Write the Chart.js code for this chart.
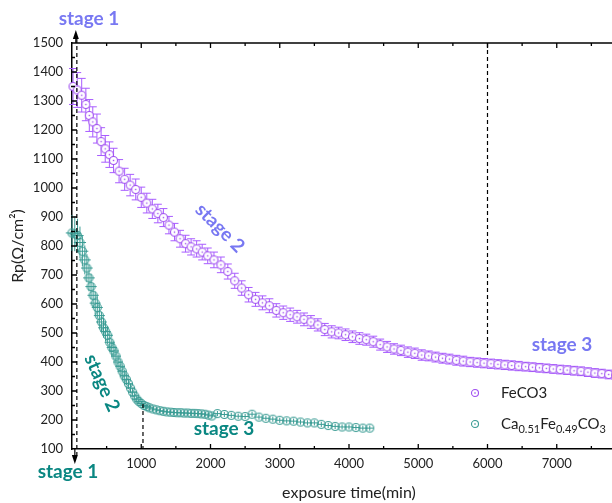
<!DOCTYPE html>
<html lang="en">
<head>
<meta charset="UTF-8">
<title>Rp vs exposure time</title>
<script src="https://cdn.jsdelivr.net/npm/chart.js"></script>
<style>
  body { margin: 0; background: #fff; }
  .wrap { width: 612px; height: 503px; overflow: hidden; }
  canvas { display: block; }
</style>
</head>
<body>
<div class="wrap"><canvas id="rp-chart" width="640" height="503"></canvas></div>
<script>
// FeCO3 (min, ohm/cm2, +/- error)
const feTime = [15, 75, 140, 200, 250, 300, 360, 420, 480, 540, 600,
  680, 760, 840, 920, 1000, 1080, 1160, 1240, 1320, 1400, 1480, 1560, 1640, 1720, 1800, 1880, 1960,
  2050, 2150, 2250, 2350, 2450, 2550, 2650, 2750, 2850, 2950, 3050, 3150, 3250, 3350, 3450, 3550,
  3650, 3750, 3850, 3950, 4050, 4150, 4250, 4350, 4450, 4550, 4650, 4750, 4850, 4950, 5050, 5150,
  5250, 5350, 5450, 5550, 5650, 5750, 5850, 5950, 6050, 6150, 6250, 6350, 6450, 6550, 6650, 6750,
  6850, 6950, 7050, 7150, 7250, 7350, 7450, 7550, 7650, 7750, 7850, 7950];
const feRp = [1350, 1338, 1320, 1288, 1250, 1228, 1205, 1160, 1135, 1115, 1095,
  1058, 1030, 1010, 995, 968, 948, 928, 912, 898, 872, 848, 825, 808, 797, 790, 779, 766,
  752, 735, 712, 680, 655, 632, 616, 604, 594, 578, 570, 563, 556, 547, 538, 528,
  512, 504, 500, 494, 487, 481, 477, 470, 460, 452, 445, 440, 434, 430, 424, 421,
  417, 413, 410, 406, 403, 400, 398, 396, 394, 392, 390, 388, 386, 384, 382, 380,
  378, 376, 374, 372, 370, 368, 365, 362, 360, 357, 355, 352];
const feErr = [62, 60, 58, 56, 55, 52, 50, 48, 46, 44, 42,
  40, 38, 37, 36, 35, 34, 33, 32, 31, 30, 30, 29, 29, 28, 28, 27, 27,
  27, 27, 26, 26, 25, 25, 24, 24, 24, 23, 23, 23, 22, 22, 22, 21,
  21, 21, 20, 20, 20, 20, 19, 19, 19, 19, 18, 18, 18, 18, 18, 17,
  17, 17, 17, 17, 17, 16, 16, 16, 16, 16, 16, 16, 16, 15, 15, 15,
  15, 15, 15, 15, 15, 15, 15, 15, 15, 15, 15, 15];

// Ca0.51Fe0.49CO3
const caTime = [0, 40, 80, 115, 150, 185, 215, 245, 275, 305, 335, 365,
  395, 425, 455, 485, 515, 545, 575, 605, 635, 665, 695, 725, 755, 785, 815, 845, 875, 905, 935, 965,
  1000, 1040, 1080, 1120,
  1170, 1220, 1270, 1320, 1370, 1420, 1470, 1520, 1570, 1620, 1670, 1720, 1770, 1820, 1870, 1920, 1970, 2020,
  2100, 2200, 2300, 2400, 2500, 2600, 2700, 2800, 2900, 3000, 3100, 3200, 3300, 3400, 3500, 3600,
  3700, 3800, 3900, 4000, 4100, 4200, 4300];
const caRp = [845, 842, 836, 812, 782, 752, 724, 690, 660, 630, 603, 588,
  560, 538, 518, 505, 492, 468, 450, 438, 420, 400, 385, 368, 352, 340, 325, 310, 296, 283, 272, 264,
  257, 250, 246, 242,
  238, 235, 232, 230, 228, 227, 226, 225, 225, 224, 224, 223, 223, 222, 221, 220, 217, 214,
  222, 219, 216, 213, 212, 220, 210, 206, 203, 199, 197, 196, 193, 190, 190, 185,
  181, 178, 176, 176, 174, 172, 172];
const caErrY = [62, 60, 58, 55, 52, 50, 48, 46, 44, 42, 40, 38,
  36, 35, 34, 33, 32, 30, 29, 28, 27, 26, 25, 24, 22, 20, 18, 16, 14, 13, 12, 11,
  10, 10, 10, 10,
  9, 9, 9, 9, 9, 9, 9, 9, 9, 9, 9, 9, 9, 9, 9, 9, 9, 9,
  9, 9, 9, 9, 9, 9, 9, 9, 9, 9, 9, 9, 9, 9, 9, 9,
  9, 9, 9, 9, 9, 9, 9];
const caErrX = [90, 90, 88, 88, 86, 86, 84, 84, 82, 82, 80, 80,
  80, 78, 78, 76, 76, 74, 74, 72, 72, 70, 70, 68, 68, 66, 66, 64, 64, 62, 62, 60,
  60, 60, 58, 58,
  56, 56, 56, 56, 56, 56, 56, 56, 56, 56, 56, 56, 56, 56, 56, 56, 56, 56,
  55, 55, 55, 55, 55, 55, 55, 55, 55, 55, 55, 55, 55, 55, 55, 55,
  55, 55, 55, 55, 55, 55, 55];

const xTicks = [1000, 2000, 3000, 4000, 5000, 6000, 7000];
const stageLines = [70, 1025, 6000];   // dashed marker times

const purple = '#a050f0';
const purpleBar = '#a85cff';
const purpleText = '#7878f2';
const teal = '#3a9c94';
const tealText = '#0a8782';
const font = "Lato, 'Open Sans', sans-serif";

function makeMarker(color, r, fill, dot) {
  const c = document.createElement('canvas');
  const s = Math.ceil(r * 2 + 3);
  c.width = s; c.height = s;
  const g = c.getContext('2d');
  g.beginPath();
  g.arc(s / 2, s / 2, r, 0, Math.PI * 2);
  if (fill) { g.fillStyle = fill; g.fill(); }
  g.strokeStyle = color; g.lineWidth = 1.1; g.stroke();
  if (dot) { g.fillStyle = color; g.fillRect(s / 2 - 0.7, s / 2 - 0.7, 1.4, 1.4); }
  return c;
}
const feMarker = makeMarker(purple, 4, '#fff', true);
const caMarker = makeMarker(teal, 4, null, false);

// error bars drawn under the markers
const errorBars = {
  id: 'errorBars',
  beforeDatasetsDraw(chart) {
    const { ctx, scales: { x, y } } = chart;
    ctx.save();
    ctx.lineWidth = 1;
    ctx.strokeStyle = teal;
    caTime.forEach((t, i) => {
      const px = x.getPixelForValue(t), py = y.getPixelForValue(caRp[i]);
      ctx.beginPath();
      ctx.moveTo(px, y.getPixelForValue(caRp[i] + caErrY[i]));
      ctx.lineTo(px, y.getPixelForValue(caRp[i] - caErrY[i]));
      ctx.moveTo(x.getPixelForValue(t - caErrX[i]), py);
      ctx.lineTo(x.getPixelForValue(t + caErrX[i]), py);
      ctx.stroke();
    });
    ctx.strokeStyle = purpleBar;
    feTime.forEach((t, i) => {
      const px = x.getPixelForValue(t);
      const top = y.getPixelForValue(feRp[i] + feErr[i]);
      const bot = y.getPixelForValue(feRp[i] - feErr[i]);
      ctx.beginPath();
      ctx.moveTo(px, top); ctx.lineTo(px, bot);
      ctx.moveTo(px - 4, top); ctx.lineTo(px + 4, top);
      ctx.moveTo(px - 4, bot); ctx.lineTo(px + 4, bot);
      ctx.stroke();
    });
    ctx.restore();
  }
};

function stageText(ctx, text, x, y, angle, color) {
  ctx.save();
  ctx.translate(x, y);
  ctx.rotate(angle * Math.PI / 180);
  ctx.fillStyle = color;
  ctx.font = 'bold 19px ' + font;
  ctx.textAlign = 'center';
  ctx.textBaseline = 'middle';
  ctx.fillText(text, 0, 0);
  ctx.restore();
}

function arrowHead(ctx, x, y, dir) {
  ctx.beginPath();
  ctx.moveTo(x, y);
  ctx.lineTo(x - 3, y - dir * 9);
  ctx.lineTo(x + 3, y - dir * 9);
  ctx.closePath();
  ctx.fill();
}

const decorations = {
  id: 'decorations',
  afterDraw(chart) {
    const { ctx, chartArea: a, scales: { x, y } } = chart;
    ctx.save();
    // frame top line and inward ticks
    ctx.strokeStyle = '#000';
    ctx.lineWidth = 1.5;
    ctx.beginPath();
    ctx.moveTo(a.left, a.top); ctx.lineTo(a.right, a.top);
    ctx.stroke();
    ctx.lineWidth = 1.3;
    ctx.beginPath();
    x.ticks.forEach(tk => {
      const v = tk.value;
      [[v, 5], [v + 500, 3]].forEach(([val, len]) => {
        if (val <= x.min || val >= x.max) return;
        const px = x.getPixelForValue(val);
        ctx.moveTo(px, a.bottom); ctx.lineTo(px, a.bottom - len);
        ctx.moveTo(px, a.top); ctx.lineTo(px, a.top + len);
      });
    });
    y.ticks.forEach(tk => {
      const v = tk.value;
      [[v, 5], [v + 50, 3]].forEach(([val, len]) => {
        if (val <= y.min || val >= y.max) return;
        const py = y.getPixelForValue(val);
        ctx.moveTo(a.left - 1, py); ctx.lineTo(a.left + len, py);
      });
    });
    ctx.stroke();

    // dashed stage boundaries
    ctx.lineWidth = 1.2;
    ctx.setLineDash([4, 3]);
    ctx.beginPath();
    const s1 = x.getPixelForValue(stageLines[0]);
    ctx.moveTo(s1, a.top - 4); ctx.lineTo(s1, a.bottom + 6);
    const s2 = x.getPixelForValue(stageLines[1]);
    ctx.moveTo(s2, y.getPixelForValue(255)); ctx.lineTo(s2, a.bottom);
    const s3 = x.getPixelForValue(stageLines[2]);
    ctx.moveTo(s3, a.top); ctx.lineTo(s3, y.getPixelForValue(420));
    ctx.stroke();
    ctx.setLineDash([]);
    ctx.fillStyle = '#000';
    ctx.beginPath();
    ctx.moveTo(s1 - 1, a.top); ctx.lineTo(s1 - 1, a.top - 8);
    ctx.moveTo(s1 - 2, a.bottom); ctx.lineTo(s1 - 2, a.bottom + 8);
    ctx.stroke();
    arrowHead(ctx, s1 - 1, a.top - 13, -1);
    arrowHead(ctx, s1 - 2, a.bottom + 15, 1);

    // stage labels
    stageText(ctx, 'stage 1', 89, 19, 0, purpleText);
    stageText(ctx, 'stage 1', 68, 472, 0, tealText);
    stageText(ctx, 'stage 2', x.getPixelForValue(2137), y.getPixelForValue(862), 45, purpleText);
    stageText(ctx, 'stage 2', x.getPixelForValue(433), y.getPixelForValue(328), 66, tealText);
    stageText(ctx, 'stage 3', x.getPixelForValue(2195), y.getPixelForValue(169), 0, tealText);
    stageText(ctx, 'stage 3', x.getPixelForValue(7076), y.getPixelForValue(459), 0, purpleText);

    // legend
    const lx = 475, ly1 = 393, ly2 = 424;
    const m1 = makeMarker(purple, 3.5, '#fff', true);
    const m2 = makeMarker(teal, 3.5, '#fff', true);
    ctx.drawImage(m1, lx - m1.width / 2, ly1 - m1.height / 2);
    ctx.drawImage(m2, lx - m2.width / 2, ly2 - m2.height / 2);
    ctx.fillStyle = '#222';
    ctx.textBaseline = 'alphabetic';
    ctx.textAlign = 'left';
    ctx.font = '15px ' + font;
    ctx.fillText('FeCO3', 501, ly1 + 5);
    let cx = 501;
    [['Ca', 0], ['0.51', 1], ['Fe', 0], ['0.49', 1], ['CO', 0], ['3', 1]].forEach(([t, sub]) => {
      ctx.font = (sub ? '11px ' : '15px ') + font;
      ctx.fillText(t, cx, ly2 + 5 + (sub ? 4 : 0));
      cx += ctx.measureText(t).width;
    });
    ctx.restore();
  }
};

new Chart(document.getElementById('rp-chart'), {
  type: 'scatter',
  data: {
    datasets: [
      {
        label: 'FeCO3',
        data: feTime.map((t, i) => ({ x: t, y: feRp[i] })),
        pointStyle: feMarker,
        pointRadius: 4,
        clip: false
      },
      {
        label: 'Ca0.51Fe0.49CO3',
        data: caTime.map((t, i) => ({ x: t, y: caRp[i] })),
        pointStyle: caMarker,
        pointRadius: 4,
        clip: false
      }
    ]
  },
  options: {
    responsive: false,
    animation: false,
    layout: { padding: { top: 43, right: 14, left: 0, bottom: 0 } },
    plugins: { legend: { display: false }, tooltip: { enabled: false } },
    scales: {
      x: {
        type: 'linear',
        min: 0,
        max: 8000,
        afterFit: s => { s.height = 54; },
        grid: { display: false, drawTicks: false },
        border: { display: true, color: '#000', width: 1.5 },
        afterBuildTicks: s => { s.ticks = [0].concat(xTicks, [8000]).map(v => ({ value: v })); },
        ticks: {
          padding: 7,
          maxRotation: 0,
          autoSkip: false,
          color: '#222',
          font: { family: font, size: 13 },
          callback: v => (xTicks.includes(v) ? String(v) : '')
        },
        title: {
          display: true,
          text: 'exposure time(min)',
          color: '#222',
          font: { family: font, size: 16 },
          padding: { top: 0, bottom: 1 }
        }
      },
      y: {
        min: 100,
        max: 1500,
        afterFit: s => { s.width = 72; },
        grid: { display: false, drawTicks: false },
        border: { display: true, color: '#000', width: 1.5 },
        ticks: {
          stepSize: 100,
          autoSkip: false,
          padding: 9,
          color: '#222',
          font: { family: font, size: 13 },
          callback: v => String(v)
        },
        title: {
          display: true,
          text: 'Rp(Ω/cm²)',
          color: '#222',
          font: { family: font, size: 16 },
          padding: { top: 8, bottom: 0 }
        }
      }
    }
  },
  plugins: [errorBars, decorations]
});
</script>
</body>
</html>
